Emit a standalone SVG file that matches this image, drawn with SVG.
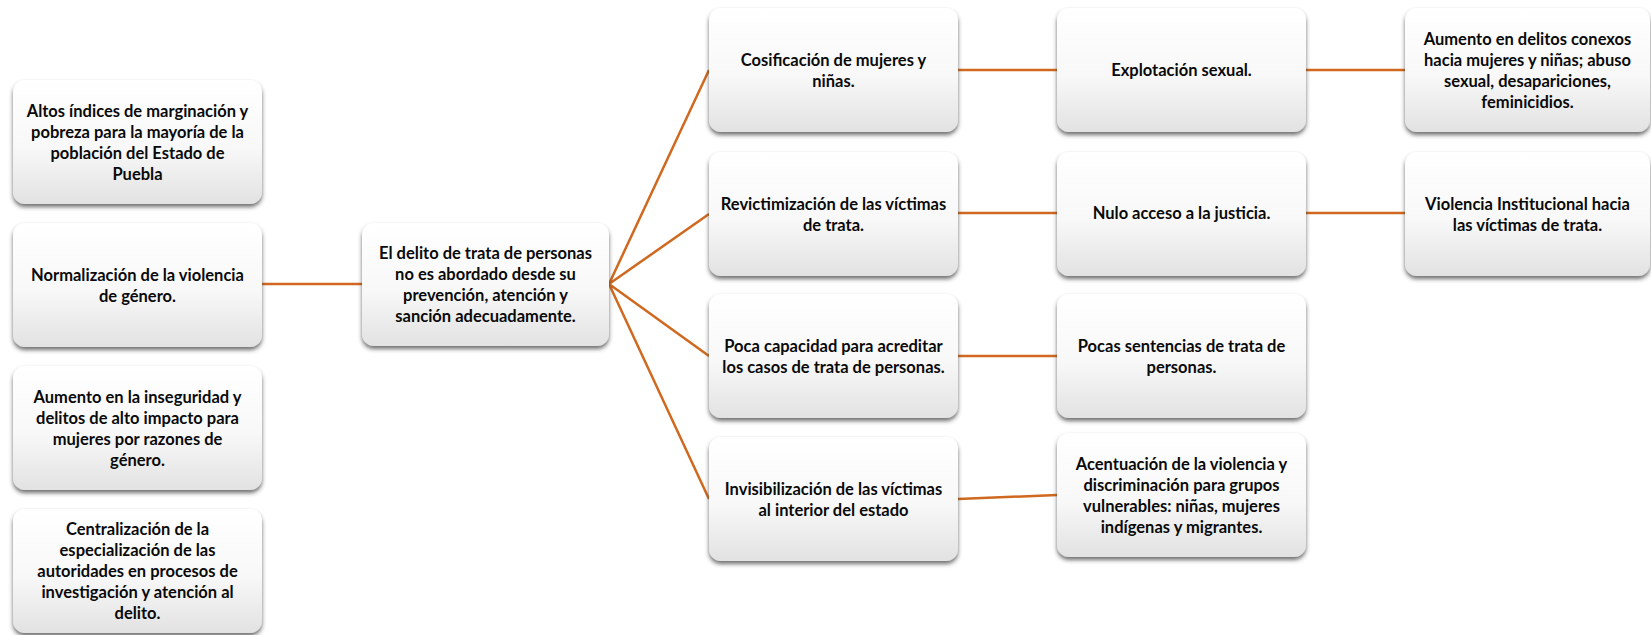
<svg xmlns="http://www.w3.org/2000/svg" width="1651" height="635" viewBox="0 0 1651 635">
<defs>
<linearGradient id="g" x1="0" y1="0" x2="0" y2="1">
<stop offset="0" stop-color="#ffffff"/>
<stop offset="0.55" stop-color="#f8f8f8"/>
<stop offset="1" stop-color="#e2e2e2"/>
</linearGradient>
<filter id="sh" x="-10%" y="-10%" width="120%" height="130%">
<feDropShadow dx="0" dy="3" stdDeviation="2.2" flood-color="#333" flood-opacity="0.7"/>
</filter>
</defs>
<style>
.box{fill:url(#g);filter:url(#sh)}
text{font-family:Lato,"Liberation Sans",sans-serif;font-weight:bold;font-size:16.5px;fill:#0a0a0a;text-anchor:middle}
.c{stroke:#D0691F;stroke-width:2.5;fill:none}
</style>
<rect width="1651" height="635" fill="#fff"/>
<g id="connectors">
<path class="c" d="M262,284 H362"/>
<path class="c" d="M609,284 L709,70 M609,284 L709,214 M609,284 L709,356 M609,284 L709,499"/>
<path class="c" d="M958,70 H1057 M958,213 H1057 M958,356 H1057 M958,499 L1057,495"/>
<path class="c" d="M1306,70 H1405 M1306,213 H1405"/>
</g>
<g id="l1"><rect class="box" x="13" y="80" width="249" height="124" rx="12"/>
<text x="137.5" y="116.5">Altos índices de marginación y</text><text x="137.5" y="137.5">pobreza para la mayoría de la</text><text x="137.5" y="158.5">población del Estado de</text><text x="137.5" y="179.5">Puebla</text></g>
<g id="l2"><rect class="box" x="13" y="223" width="249" height="124" rx="12"/>
<text x="137.5" y="280.5">Normalización de la violencia</text><text x="137.5" y="301.5">de género.</text></g>
<g id="l3"><rect class="box" x="13" y="366" width="249" height="124" rx="12"/>
<text x="137.5" y="402.5">Aumento en la inseguridad y</text><text x="137.5" y="423.5">delitos de alto impacto para</text><text x="137.5" y="444.5">mujeres por razones de</text><text x="137.5" y="465.5">género.</text></g>
<g id="l4"><rect class="box" x="13" y="509" width="249" height="124" rx="12"/>
<text x="137.5" y="535">Centralización de la</text><text x="137.5" y="556">especialización de las</text><text x="137.5" y="577">autoridades en procesos de</text><text x="137.5" y="598">investigación y atención al</text><text x="137.5" y="619">delito.</text></g>
<g id="center"><rect class="box" x="362" y="223" width="247" height="123" rx="12"/>
<text x="485.5" y="259">El delito de trata de personas</text><text x="485.5" y="280">no es abordado desde su</text><text x="485.5" y="301">prevención, atención y</text><text x="485.5" y="322">sanción adecuadamente.</text></g>
<g id="r1a"><rect class="box" x="709" y="8" width="249" height="124" rx="12"/>
<text x="833.5" y="65.5">Cosificación de mujeres y</text><text x="833.5" y="86.5">niñas.</text></g>
<g id="r2a"><rect class="box" x="709" y="152" width="249" height="124" rx="12"/>
<text x="833.5" y="209.5">Revictimización de las víctimas</text><text x="833.5" y="230.5">de trata.</text></g>
<g id="r3a"><rect class="box" x="709" y="294" width="249" height="124" rx="12"/>
<text x="833.5" y="351.5">Poca capacidad para acreditar</text><text x="833.5" y="372.5">los casos de trata de personas.</text></g>
<g id="r4a"><rect class="box" x="709" y="437" width="249" height="124" rx="12"/>
<text x="833.5" y="494.5">Invisibilización de las víctimas</text><text x="833.5" y="515.5">al interior del estado</text></g>
<g id="r1b"><rect class="box" x="1057" y="8" width="249" height="124" rx="12"/>
<text x="1181.5" y="76">Explotación sexual.</text></g>
<g id="r2b"><rect class="box" x="1057" y="152" width="249" height="124" rx="12"/>
<text x="1181.5" y="219">Nulo acceso a la justicia.</text></g>
<g id="r3b"><rect class="box" x="1057" y="294" width="249" height="124" rx="12"/>
<text x="1181.5" y="351.5">Pocas sentencias de trata de</text><text x="1181.5" y="372.5">personas.</text></g>
<g id="r4b"><rect class="box" x="1057" y="433" width="249" height="124" rx="12"/>
<text x="1181.5" y="469.5">Acentuación de la violencia y</text><text x="1181.5" y="490.5">discriminación para grupos</text><text x="1181.5" y="511.5">vulnerables: niñas, mujeres</text><text x="1181.5" y="532.5">indígenas y migrantes.</text></g>
<g id="r1c"><rect class="box" x="1405" y="8" width="245" height="124" rx="12"/>
<text x="1527.5" y="44.5">Aumento en delitos conexos</text><text x="1527.5" y="65.5">hacia mujeres y niñas; abuso</text><text x="1527.5" y="86.5">sexual, desapariciones,</text><text x="1527.5" y="107.5">feminicidios.</text></g>
<g id="r2c"><rect class="box" x="1405" y="152" width="245" height="124" rx="12"/>
<text x="1527.5" y="209.5">Violencia Institucional hacia</text><text x="1527.5" y="230.5">las víctimas de trata.</text></g>
</svg>
